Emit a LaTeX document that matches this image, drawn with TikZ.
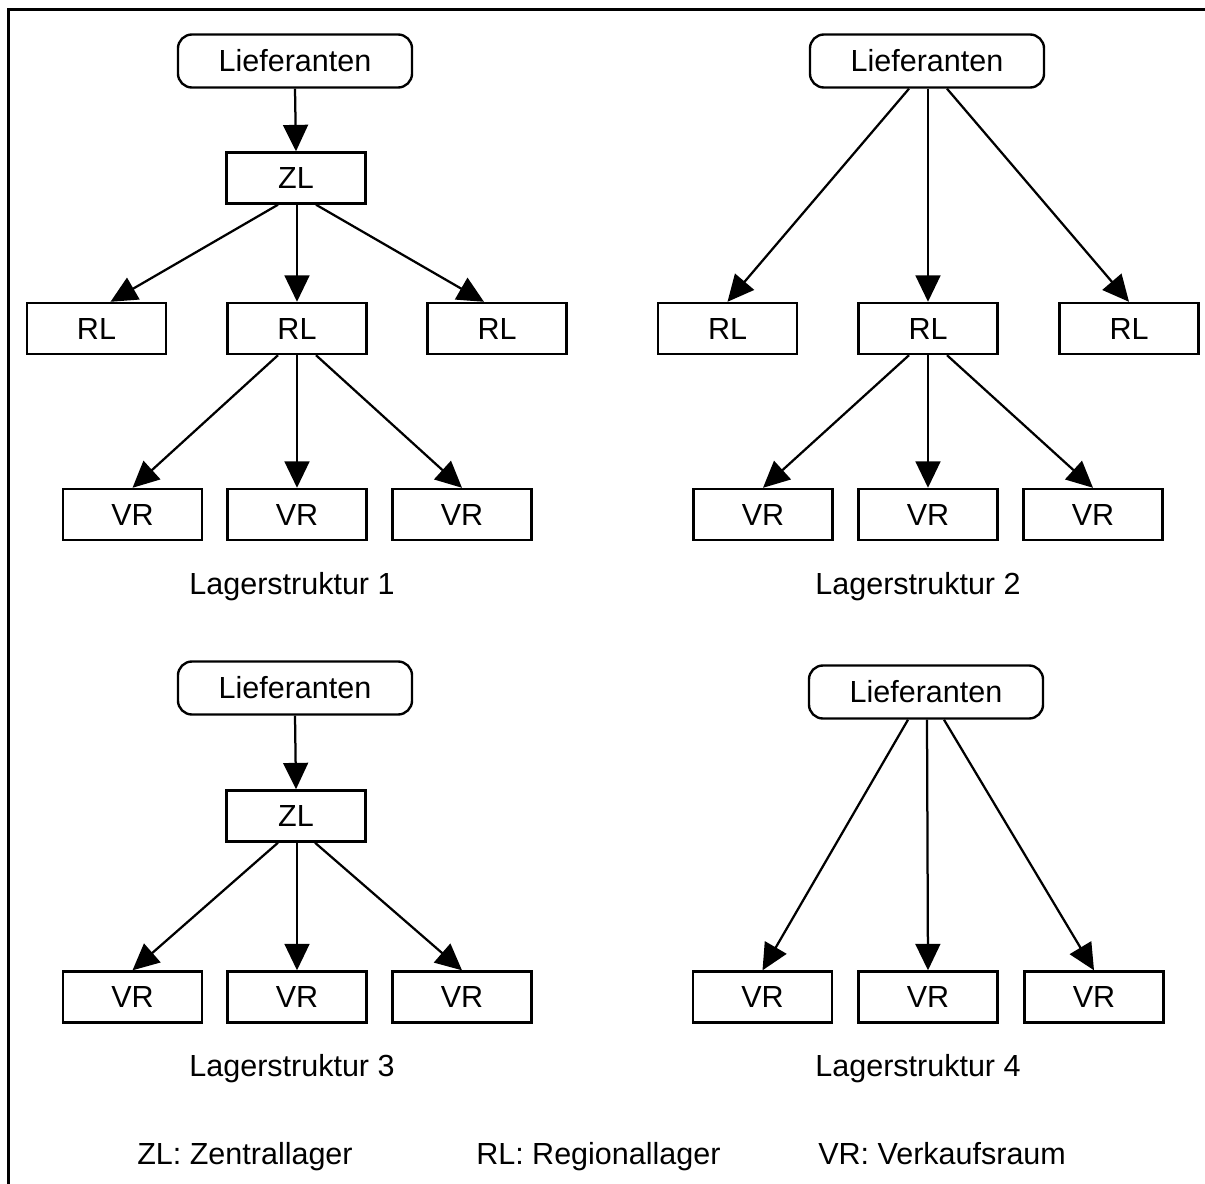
\documentclass[tikz,border=0pt]{standalone}
\usepackage{fontspec}
\setmainfont{Liberation Sans}
\usetikzlibrary{arrows.meta,calc}
\begin{document}
\begin{tikzpicture}[x=0.025cm,y=-0.025cm,
  every node/.style={font=\fontsize{21.7}{26}\selectfont},
  unit/.style={draw, line width=1.7pt, minimum width=3.475cm, minimum height=1.275cm, inner sep=0pt},
  source/.style={draw, line width=1.7pt, rounded corners=0.35cm, minimum width=5.85cm, minimum height=1.325cm, inner sep=0pt},
  flow/.style={line width=1.6pt, -{Triangle[length=0.66cm,width=0.62cm]}},
  caption/.style={inner sep=0pt, anchor=base}
]
\useasboundingbox (0,0) rectangle (1205,1184);
% frame
\coordinate (fbl) at (8.5,1184);
\coordinate (ftl) at (8.5,9.5);
\coordinate (ftr) at (1205,9.5);
\draw[line width=2.2pt] (fbl) -- (ftl) -- (ftr);

% ---- Lagerstruktur 1
\node[source] (s1) at (295,61) {Lieferanten};
\node[unit] (z1) at (296,178) {ZL};
\node[unit] (r1a) at (96.5,328.5) {RL};
\node[unit] (r1b) at (297,328.5) {RL};
\node[unit] (r1c) at (497,328.5) {RL};
\node[unit] (v1a) at (132.5,514.5) {VR};
\node[unit] (v1b) at (297,514.5) {VR};
\node[unit] (v1c) at (462,514.5) {VR};
\node[caption] (c1) at (292,594) {Lagerstruktur 1};
\draw[flow] (s1.south) -- (z1.north);
\draw[flow] ($(z1.south)+(-18,0)$) -- ($(r1a.north)+(14,0)$);
\draw[flow] ($(z1.south)+(1,0)$) -- (r1b.north);
\draw[flow] ($(z1.south)+(20,0)$) -- ($(r1c.north)+(-13,0)$);
\draw[flow] ($(r1b.south)+(-19,0)$) -- (v1a.north);
\draw[flow] (r1b.south) -- (v1b.north);
\draw[flow] ($(r1b.south)+(19,0)$) -- (v1c.north);

% ---- Lagerstruktur 2
\node[source] (s2) at (927,61) {Lieferanten};
\node[unit] (r2a) at (727.5,328.5) {RL};
\node[unit] (r2b) at (928,328.5) {RL};
\node[unit] (r2c) at (1129,328.5) {RL};
\node[unit] (v2a) at (763,514.5) {VR};
\node[unit] (v2b) at (928,514.5) {VR};
\node[unit] (v2c) at (1093,514.5) {VR};
\node[caption] (c2) at (918,594) {Lagerstruktur 2};
\draw[flow] ($(s2.south)+(-18,0)$) -- (r2a.north);
\draw[flow] ($(s2.south)+(1,0)$) -- (r2b.north);
\draw[flow] ($(s2.south)+(20,0)$) -- (r2c.north);
\draw[flow] ($(r2b.south)+(-19,0)$) -- (v2a.north);
\draw[flow] (r2b.south) -- (v2b.north);
\draw[flow] ($(r2b.south)+(19,0)$) -- (v2c.north);

% ---- Lagerstruktur 3
\node[source] (s3) at (295,688) {Lieferanten};
\node[unit] (z3) at (296,816) {ZL};
\node[unit] (v3a) at (132.5,997) {VR};
\node[unit] (v3b) at (297,997) {VR};
\node[unit] (v3c) at (462,997) {VR};
\node[caption] (c3) at (292,1076) {Lagerstruktur 3};
\draw[flow] (s3.south) -- (z3.north);
\draw[flow] ($(z3.south)+(-18,0)$) -- (v3a.north);
\draw[flow] ($(z3.south)+(1,0)$) -- (v3b.north);
\draw[flow] ($(z3.south)+(19,0)$) -- (v3c.north);

% ---- Lagerstruktur 4
\node[source] (s4) at (926,692) {Lieferanten};
\node[unit] (v4a) at (762.5,997) {VR};
\node[unit] (v4b) at (928,997) {VR};
\node[unit] (v4c) at (1094,997) {VR};
\node[caption] (c4) at (918,1076) {Lagerstruktur 4};
\draw[flow] ($(s4.south)+(-18,0)$) -- (v4a.north);
\draw[flow] ($(s4.south)+(1,0)$) -- (v4b.north);
\draw[flow] ($(s4.south)+(18,0)$) -- (v4c.north);

% ---- legend
\node[caption, anchor=base west] (l1) at (137,1164) {ZL: Zentrallager};
\node[caption, anchor=base west] (l2) at (476,1164) {RL: Regionallager};
\node[caption, anchor=base west] (l3) at (818,1164) {VR: Verkaufsraum};
\end{tikzpicture}
\end{document}
